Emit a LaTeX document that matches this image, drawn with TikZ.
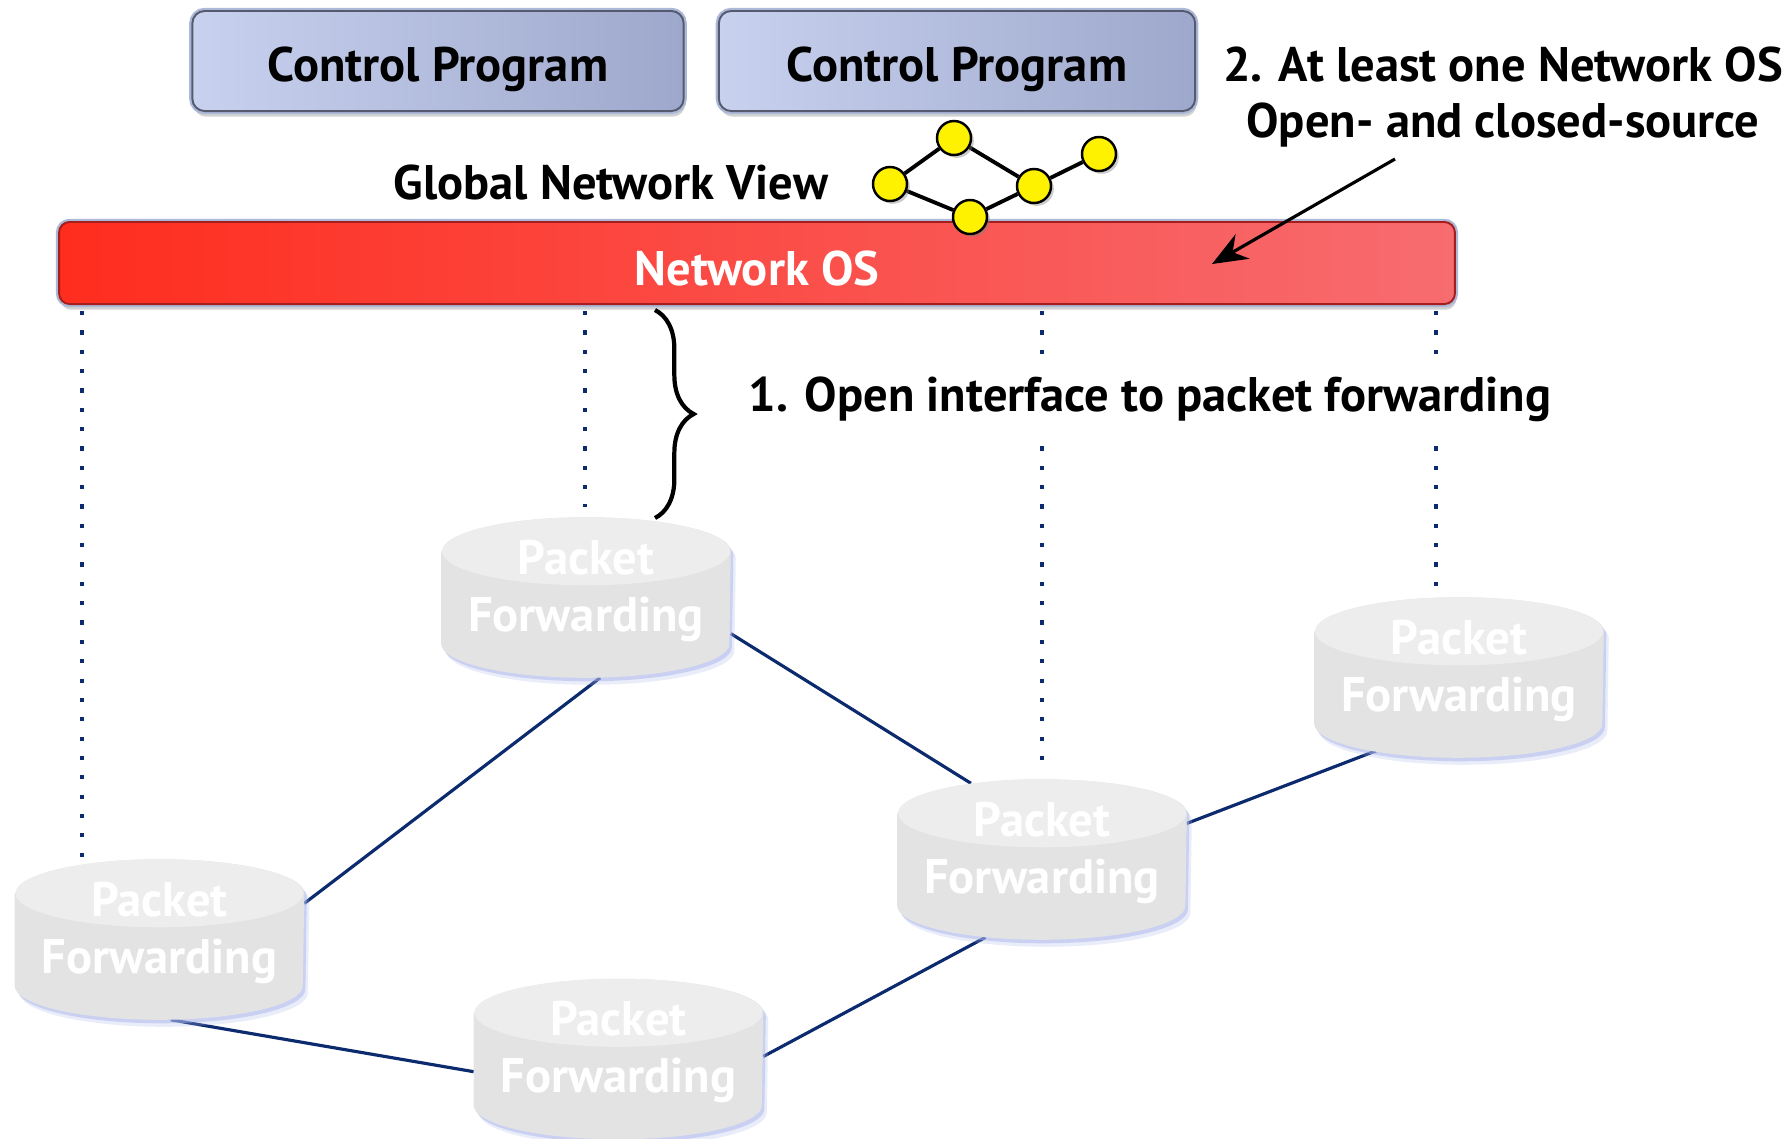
\documentclass[tikz,border=0pt]{standalone}
\usepackage{fontspec}
\setmainfont{PT Sans}
\usetikzlibrary{arrows.meta,calc,shadows,backgrounds,decorations.pathreplacing}
\definecolor{prog_left}{RGB}{200,209,238}
\definecolor{prog_right}{RGB}{158,168,204}
\definecolor{prog_rim}{RGB}{172,184,216}
\definecolor{prog_edge}{RGB}{85,90,110}
\definecolor{nos_left}{RGB}{255,45,30}
\definecolor{nos_right}{RGB}{247,108,112}
\definecolor{nos_edge}{RGB}{165,30,30}
\definecolor{pf_top}{RGB}{237,237,237}
\definecolor{pf_body}{RGB}{227,227,227}
\definecolor{pf_glow}{RGB}{170,182,235}
\definecolor{link_blue}{RGB}{12,42,110}
\definecolor{view_yell}{RGB}{255,242,0}
% outline of a packet forwarding drum, shifted by (#2,#3)
\newcommand\fwdoutline[3]{($(#1.north west)+(#2,#3+34)$) -- ($(#1.south west)+(#2,#3-34)$)
  arc[start angle=180,end angle=360,x radius=1.44cm,y radius=0.34cm]
  -- ($(#1.north east)+(#2,#3+34)$)
  arc[start angle=0,end angle=180,x radius=1.44cm,y radius=0.34cm] -- cycle}

\begin{document}
\begin{tikzpicture}[x=0.01cm,y=-0.01cm,>={Stealth[length=10pt,width=8pt]}]
    \tikzstyle{txt}=[text=black,align=center,inner sep=0pt,font=\fontsize{13.8}{16.2}\selectfont\bfseries]
    \tikzstyle{prog}=[txt,rectangle,rounded corners=3.5pt,minimum height=1cm,text height=11.5pt,text depth=0pt,
      drop shadow={shadow xshift=0.4pt,shadow yshift=-1.6pt,opacity=.35},
      preaction={draw=prog_rim,line width=1.8pt},
      left color=prog_left,right color=prog_right,draw=prog_edge,line width=0.55pt]
    \tikzstyle{netos}=[txt,text=white,rectangle,rounded corners=3pt,text height=13pt,text depth=0pt,
      minimum width=13.95cm,minimum height=0.82cm,
      drop shadow={shadow xshift=0.4pt,shadow yshift=-1.6pt,opacity=.35},
      preaction={draw=prog_rim,line width=1.8pt},
      left color=nos_left,right color=nos_right,draw=nos_edge,line width=0.55pt]
    \tikzstyle{fwd}=[txt,text=white,rectangle,text depth=6.7pt,minimum width=2.88cm,minimum height=1.59cm]
    \tikzstyle{view}=[circle,draw=black,line width=0.7pt,fill=view_yell,
      minimum size=0.34cm,inner sep=0pt,
      drop shadow={shadow xshift=0.8pt,shadow yshift=-0.8pt,opacity=.4}]
    \tikzstyle{link}=[link_blue,line width=0.9pt]
    \tikzstyle{ctrl}=[link_blue,line width=1.2pt,dash pattern=on 1.2pt off 4.3pt]

    \useasboundingbox (0,0) rectangle (1785,1138);

    % control programs and network OS
    \node[prog,minimum width=4.91cm] (cp1) at (438,61)  {Control Program};
    \node[prog,minimum width=4.76cm] (cp2) at (957,61)  {Control Program};
    \node[netos]                     (nos) at (757,263) {Network OS};

    % global network view
    \node[txt] (gnv) at (611,182) {Global Network View};
    \node[view] (g1) at (954,138)  {};
    \node[view] (g2) at (890,184)  {};
    \node[view] (g3) at (970,217)  {};
    \node[view] (g4) at (1034,186) {};
    \node[view] (g5) at (1099,154) {};

    % packet forwarding elements
    \node[fwd] (A) at (586,597.5)  {Packet\\Forwarding};
    \node[fwd] (B) at (1459,677.5) {Packet\\Forwarding};
    \node[fwd] (C) at (1042,859.5) {Packet\\Forwarding};
    \node[fwd] (D) at (159.5,939.5) {Packet\\Forwarding};
    \node[fwd] (E) at (618.5,1059) {Packet\\Forwarding};

    % notes
    \node[txt] (note2) at (1503,97) {2. At least one Network OS\\Open- and closed-source};
    \node[txt,fill=white,inner ysep=6pt] (note1) at (1150,399) {1. Open interface to packet forwarding};
    \coordinate (n2s) at (1395,159);
    \coordinate (n2e) at (1212,264);
    \draw[->,line width=0.9pt] (n2s) -- (n2e);
    \coordinate (bt) at (655,310);
    \coordinate (bb) at (655,518);
    \draw[line width=1.2pt,decorate,decoration={brace,amplitude=11pt}] (bt) -- (bb);

    \begin{scope}[on background layer]
      \fill[white] (0,0) rectangle (1785,1138);
      \path (g2) edge[line width=1.1pt] (g1)
            (g1) edge[line width=1.1pt] (g4)
            (g2) edge[line width=1.1pt] (g3)
            (g3) edge[line width=1.1pt] (g4)
            (g4) edge[line width=1.1pt] (g5);
      % control channels
      \coordinate (dD) at (82,858);
      \coordinate (dA) at (585,507);
      \coordinate (dC) at (1042,774);
      \coordinate (dB) at (1436,592);
      \foreach \d in {dD,dA,dC,dB}
        \draw[ctrl] (nos.south -| \d) ++(0,6) -- (\d);
      % data links
      \draw[link] (A.280) -- (D.14);
      \draw[link] (A.346) -- ($(C)!.95!(C.133)$);
      \draw[link] (C.14)  -- ($(B)!.9!(B.222)$);
      \draw[link] ($(C)!.97!(C.234)$) -- (E.1);
      \draw[link] (D.278) -- (E.185);
      % drums
      \foreach \n in {A,B,C,D,E} {
        \fill[pf_glow,opacity=.25] \fwdoutline{\n}{5}{7};
        \fill[pf_glow,opacity=.5]  \fwdoutline{\n}{2.5}{3.5};
        \fill[pf_body] \fwdoutline{\n}{0}{0};
        \fill[pf_top] ($(\n.north)+(0,34)$) ellipse [x radius=1.44cm,y radius=0.34cm];
      }
    \end{scope}
\end{tikzpicture}
\end{document}
